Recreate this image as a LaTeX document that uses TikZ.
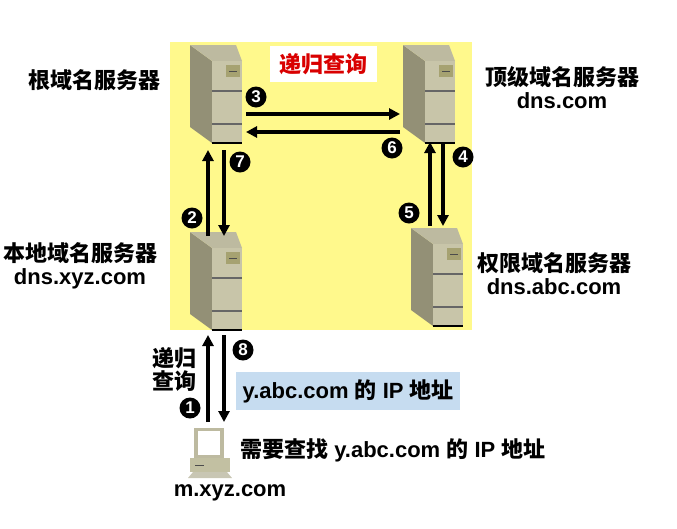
\documentclass[tikz,border=0pt]{standalone}
\usepackage{fontspec}
\usetikzlibrary{arrows.meta}
\setmainfont{Liberation Sans}
\newfontfamily\cjk{Noto Sans CJK SC}
\definecolor{ansblue}{RGB}{198,220,240}
\begin{document}
\begin{tikzpicture}[x=1pt,y=-1pt,
  lbl/.style={font=\bfseries\fontsize{22}{25}\selectfont,inner sep=0pt},
  cj/.style={font=\cjk\bfseries\fontsize{22}{25}\selectfont,inner sep=0pt},
  num/.style={circle,fill=black,text=white,inner sep=0pt,minimum size=21pt,font=\bfseries\fontsize{17}{17}\selectfont},
  arr/.style={line width=4pt,-{Triangle[length=11pt,width=11pt]}}]
\useasboundingbox (0,0) rectangle (677,528);
\fill[yellow!45!white] (170,42) rectangle (472,330);
\newcommand\server[3]{%
 \begin{scope}[shift={(#1,#2)}]
 \fill[gray!55!olive!60!black!70] (0,0) -- (22,16) -- (22,98) -- (0,82) -- cycle;
 \fill[olive!25!gray!60] (0,0) -- (46,0) -- (52,16) -- (22,16) -- cycle;
 \fill[olive!30!gray!50] (22,16) rectangle (52,98);
 \fill[olive!40!gray!80] (36,20) rectangle (50,32);
 \draw[black!70,line width=1pt] (39,26) -- (47,26);
 \draw[black!60,line width=1.2pt] (22,46) -- (52,46) (22,79) -- (52,79);
 \draw[black,line width=2pt] (22,98) -- (52,98);
 \coordinate (#3) at (26,49);
 \end{scope}}
\server{190}{45}{root}
\server{403}{45}{top}
\server{190}{232}{local}
\server{411}{228}{auth}
\node[fill=white,minimum width=107pt,minimum height=36pt,text=red!85!black,font=\cjk\bfseries\fontsize{22}{22}\selectfont] (t) at (323,64) {递归查询};
\draw[arr] (246,114) -- (400,114);
\draw[arr] (400,132) -- (246,132);
\draw[arr] (208,236) -- (208,150);
\draw[arr] (224,150) -- (224,236);
\draw[arr] (430,226) -- (430,142);
\draw[arr] (443,142) -- (443,226);
\draw[arr] (208,422) -- (208,335);
\draw[arr] (224,335) -- (224,422);
\node[num] (n3) at (256,97) {3};
\node[num] (n6) at (392,148) {6};
\node[num] (n7) at (240,162) {7};
\node[num] (n2) at (192,218) {2};
\node[num] (n4) at (463,157) {4};
\node[num] (n5) at (409,213) {5};
\node[num] (n8) at (243,350) {8};
\node[num] (n1) at (190,408) {1};
\node[cj] (l1) at (94,80) {根域名服务器};
\node[lbl,align=center] (l2) at (562,88) {{\cjk 顶级域名服务器}\\[-2pt]dns.com};
\node[lbl,align=center] (l3) at (80,266) {{\cjk 本地域名服务器}\\[-2pt]dns.xyz.com};
\node[lbl,align=center] (l4) at (554,274) {{\cjk 权限域名服务器}\\[-2pt]dns.abc.com};
\node[cj,align=center] (l5) at (174,369) {递归\\[-2pt]查询};
\node[lbl,fill=ansblue,minimum width=224pt,minimum height=38pt,anchor=west,inner xsep=4pt,align=left] (ans) at (236,391) {y.abc.com {\cjk 的} IP {\cjk 地址}};
\begin{scope}[shift={(190,428)}]
 \fill[olive!25!gray!60] (4,0) rectangle (34,30);
 \fill[white] (8,3) rectangle (30,27);
 \fill[olive!30!gray!55] (0,30) rectangle (40,44);
 \draw[black!70] (5,37) -- (14,37);
 \fill[olive!20!gray!50] (3,44) -- (37,44) -- (42,50) -- (-2,50) -- cycle;
 \coordinate (pc) at (20,25);
\end{scope}
\node[lbl,anchor=west] (q) at (240,450) {{\cjk 需要查找} y.abc.com {\cjk 的} IP {\cjk 地址}};
\node[lbl] (m) at (230,493) {m.xyz.com};
\end{tikzpicture}
\end{document}
